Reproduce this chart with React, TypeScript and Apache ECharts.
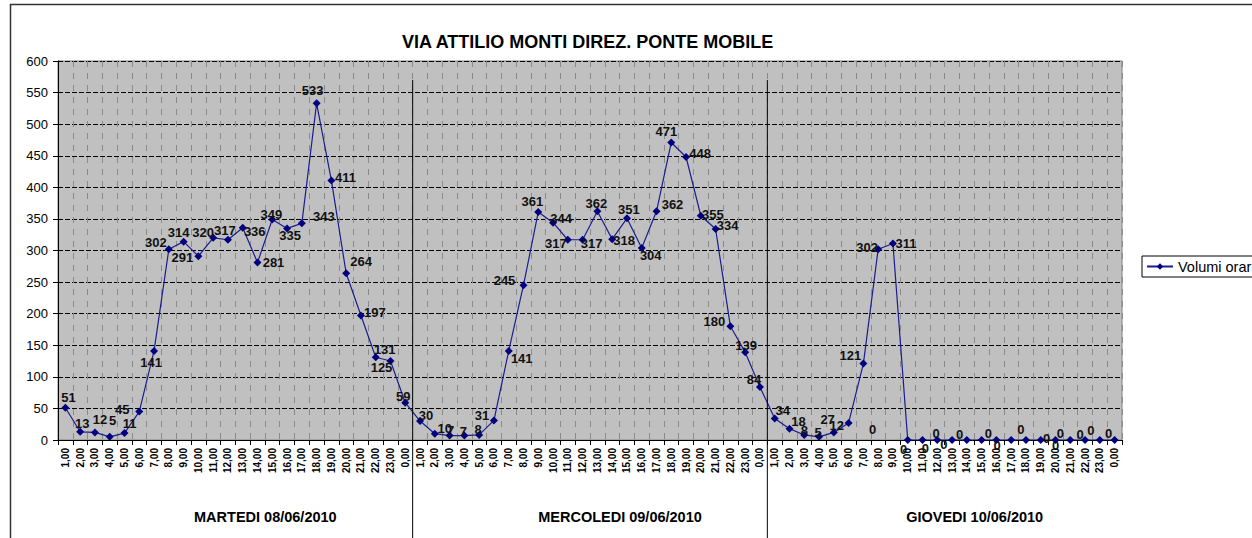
import React, { useEffect, useRef } from "react";
import * as echarts from "echarts";

const hours = [
  "1,00", "2,00", "3,00", "4,00", "5,00", "6,00", "7,00", "8,00", "9,00", "10,00", "11,00", "12,00",
  "13,00", "14,00", "15,00", "16,00", "17,00", "18,00", "19,00", "20,00", "21,00", "22,00", "23,00", "0,00",
];
const days = ["MARTEDI 08/06/2010", "MERCOLEDI 09/06/2010", "GIOVEDI 10/06/2010"];
const martedi = [51, 13, 12, 5, 11, 45, 141, 302, 314, 291, 320, 317, 336, 281, 349, 335, 343, 533, 411, 264, 197, 131, 125, 59];
const mercoledi = [30, 10, 7, 7, 8, 31, 141, 245, 361, 344, 317, 317, 362, 318, 351, 304, 362, 471, 448, 355, 334, 180, 139, 84];
const giovedi = [34, 18, 8, 5, 12, 27, 121, 302, 311, 0, 0, 0, 0, 0, 0, 0, 0, 0, 0, 0, 0, 0, 0, 0];
const yTicks = { min: 0, max: 600, interval: 50 };
const title = "VIA ATTILIO MONTI DIREZ. PONTE MOBILE";
const seriesName = "Volumi orari";

// label placement (style only): offset of each data label from its point
const labelOffsets: number[][] = [
  [3, -10], [2, -8], [5, -13], [3, -16], [5, -10], [-17, -2], [-3, 12], [-13, -7], [-5, -9], [-16, 1], [-10, -5], [-3, -9],
  [12, 4], [16, 0], [-1, -5], [3, 7], [22, -7], [-4, -13], [14, -3], [15, -12], [14, -3], [9, -8], [-9, 6], [-2, -6],
  [6, -6], [10, -5], [1, -5], [-1, -4], [-1, -5], [-12, -5], [13, 8], [-19, -5], [-6, -10], [8, -4], [-12, 4], [9, 4],
  [-1, -8], [12, 1], [2, -9], [9, 8], [16, -7], [-5, -11], [14, -4], [12, -1], [12, -4], [-16, -5], [1, -7], [-6, -7],
  [8, -8], [9, -7], [0, -4], [-1, -4], [3, -7], [-21, -3], [-13, -8], [-11, -2], [13, 0], [-35, -11], [-19, 9], [-12, 8],
  [-16, -7], [-23, 4], [-22, -6], [-8, -7], [-14, 5], [-5, -11], [6, -2], [0, 5], [-10, -7], [-5, -6], [-9, -10], [-6, -7],
];

const categories = days.flatMap(() => hours);
const values = [...martedi, ...mercoledi, ...giovedi];

const FONT = "'Liberation Sans', Arial, sans-serif";

export default function App() {
  const ref = useRef<HTMLDivElement>(null);
  useEffect(() => {
    if (!ref.current) return;
    const chart = echarts.init(ref.current, null, { renderer: "svg" });
    chart.setOption({
      animation: false,
      backgroundColor: "#fff",
      textStyle: { fontFamily: FONT },
      title: {
        text: title,
        left: 397,
        top: 28,
        textStyle: { fontSize: 18, fontWeight: "bold", color: "#000", fontFamily: FONT },
      },
      legend: {
        data: [seriesName],
        left: 1142,
        top: 256,
        backgroundColor: "#fff",
        borderColor: "#000",
        borderWidth: 1,
        borderRadius: 0,
        padding: [3, 4],
        itemWidth: 26,
        itemHeight: 8,
        itemGap: 4,
        textStyle: { fontSize: 14.5, color: "#000", fontFamily: FONT },
      },
      grid: {
        left: 58,
        top: 61,
        right: 130,
        bottom: 98,
        show: true,
        backgroundColor: "#c0c0c0",
        borderColor: "#808080",
        borderWidth: 1,
        containLabel: false,
      },
      xAxis: [
        {
          type: "category",
          data: categories,
          boundaryGap: true,
          axisLine: { show: true, lineStyle: { color: "#000", width: 1 } },
          axisTick: { show: true, interval: 0, length: 5, lineStyle: { color: "#000" } },
          axisLabel: {
            interval: 0,
            rotate: 90,
            fontSize: 10,
            fontWeight: "bold",
            color: "#000",
            margin: 8,
            fontFamily: FONT,
          },
          splitLine: {
            show: true,
            interval: 0,
            lineStyle: { color: "#8a8a8a", type: [6, 6], width: 1 },
          },
        },
        {
          type: "category",
          data: days,
          position: "bottom",
          offset: 61,
          axisLine: { show: false },
          axisTick: { show: false },
          splitLine: { show: false },
          axisLabel: {
            interval: 0,
            fontSize: 14.5,
            fontWeight: "bold",
            color: "#000",
            margin: 8,
            padding: [0, 0, 0, 60],
            fontFamily: FONT,
          },
        },
      ],
      yAxis: {
        type: "value",
        min: yTicks.min,
        max: yTicks.max,
        interval: yTicks.interval,
        axisLine: { show: true, lineStyle: { color: "#000" } },
        axisTick: { show: true, length: 5, lineStyle: { color: "#000" } },
        axisLabel: { fontSize: 13, color: "#000", margin: 10, fontFamily: FONT },
        splitLine: { show: true, lineStyle: { color: "#000", type: [5, 2], width: 1 } },
      },
      series: [
        {
          name: seriesName,
          type: "line",
          xAxisIndex: 0,
          data: values.map((v, i) => ({ value: v, label: { offset: labelOffsets[i] } })),
          symbol: "diamond",
          symbolSize: 8,
          showAllSymbol: true,
          lineStyle: { color: "#1c1c90", width: 1.2 },
          itemStyle: { color: "#000080" },
          label: {
            show: true,
            position: "inside",
            fontSize: 13,
            fontWeight: "bold",
            color: "#111",
            fontFamily: FONT,
          },
          emphasis: { disabled: true },
          z: 3,
        },
      ],
    });

    const px = (i: number) => chart.convertToPixel({ xAxisIndex: 0 }, i) as number;
    const b1 = (px(23) + px(24)) / 2;
    const b2 = (px(47) + px(48)) / 2;
    chart.setOption({
      graphic: [
        {
          type: "rect",
          shape: { x: 10.5, y: 4.5, width: 1400, height: 700 },
          style: { fill: "none", stroke: "#333", lineWidth: 1.5 },
          silent: true,
          z: 10,
        },
        {
          type: "line",
          shape: { x1: b1, y1: 80, x2: b1, y2: 540 },
          style: { stroke: "#000", lineWidth: 1 },
          silent: true,
          z: 10,
        },
        {
          type: "line",
          shape: { x1: b2, y1: 80, x2: b2, y2: 540 },
          style: { stroke: "#000", lineWidth: 1 },
          silent: true,
          z: 10,
        },
      ],
    });

    return () => chart.dispose();
  }, []);
  return (
    <div
      ref={ref}
      style={{ position: "fixed", left: 0, top: 0, width: 1252, height: 538 }}
    />
  );
}
